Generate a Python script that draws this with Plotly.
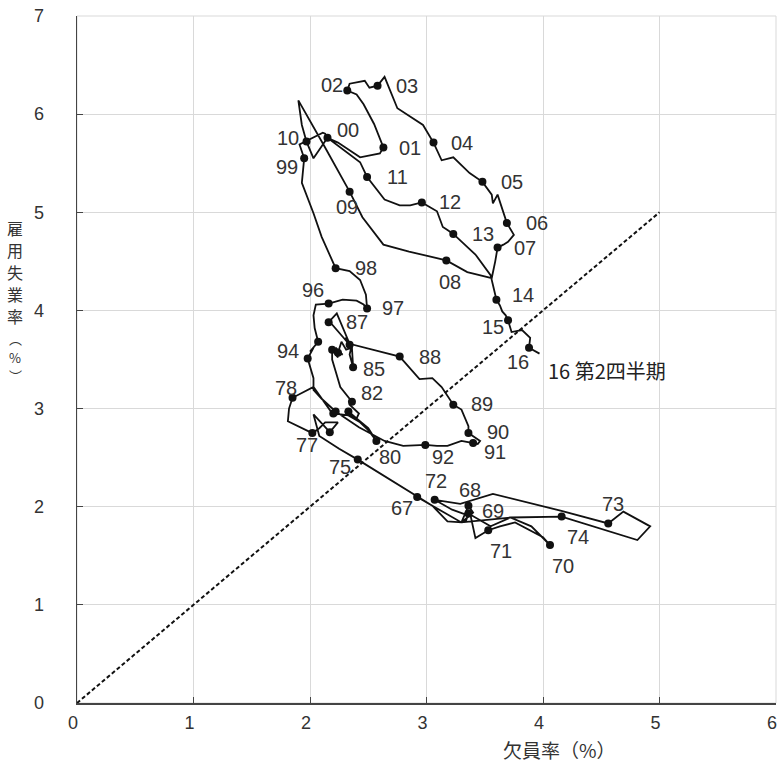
import plotly.graph_objects as go

# ---------------- data ----------------
# quarterly path, 1967 Q1 ... 2016 Q2 (4 points per year)
vacancy_rate = [
    2.92, 3.05, 3.18, 3.30,   # 1967
    3.36, 3.40, 3.31, 3.34,   # 1968
    3.36, 3.55, 3.72, 3.90,   # 1969
    4.06, 4.00, 3.76, 3.63,   # 1970
    3.53, 3.42, 3.38, 3.22,   # 1971
    3.07, 3.29, 3.57, 4.15,   # 1972
    4.56, 4.69, 4.92, 4.81,   # 1973
    4.16, 3.72, 3.30, 3.05,   # 1974
    2.41, 2.25, 2.08, 2.03,   # 1975
    2.17, 2.24, 2.13, 2.08,   # 1976
    2.02, 1.81, 1.82, 1.84,   # 1977
    1.85, 2.03, 2.12, 2.18,   # 1978
    2.20, 2.33, 2.43, 2.50,   # 1979
    2.57, 2.50, 2.40, 2.30,   # 1980
    2.33, 2.40, 2.42, 2.34,   # 1981
    2.36, 2.26, 2.22, 2.19,   # 1982
    2.19, 2.24, 2.22, 2.28,   # 1983
    2.24, 2.27, 2.31, 2.36,   # 1984
    2.37, 2.34, 2.36, 2.30,   # 1985
    2.34, 2.26, 2.20, 2.18,   # 1986
    2.16, 2.23, 2.34, 2.55,   # 1987
    2.77, 2.94, 3.05, 3.13,   # 1988
    3.23, 3.30, 3.33, 3.36,   # 1989
    3.36, 3.42, 3.46, 3.44,   # 1990
    3.40, 3.30, 3.18, 3.09,   # 1991
    2.99, 2.80, 2.64, 2.42,   # 1992
    2.22, 2.10, 2.03, 2.03,   # 1993
    1.98, 2.03, 2.00, 2.04,   # 1994
    2.07, 2.04, 2.03, 2.05,   # 1995
    2.16, 2.28, 2.40, 2.46,   # 1996
    2.49, 2.48, 2.43, 2.34,   # 1997
    2.22, 2.10, 2.03, 1.93,   # 1998
    1.95, 1.91, 2.11, 2.13,   # 1999
    2.15, 2.24, 2.43, 2.60,   # 2000
    2.63, 2.55, 2.46, 2.40,   # 2001
    2.32, 2.34, 2.47, 2.51,   # 2002
    2.58, 2.64, 2.75, 2.97,   # 2003
    3.06, 3.13, 3.23, 3.37,   # 2004
    3.48, 3.56, 3.57, 3.61,   # 2005
    3.69, 3.75, 3.70, 3.66,   # 2006
    3.61, 3.59, 3.56, 3.35,   # 2007
    3.17, 2.85, 2.63, 2.45,   # 2008
    2.34, 2.12, 1.90, 1.93,   # 2009
    1.97, 2.03, 2.15, 2.43,   # 2010
    2.49, 2.64, 2.77, 2.86,   # 2011
    2.96, 3.09, 3.14, 3.18,   # 2012
    3.23, 3.42, 3.55, 3.58,   # 2013
    3.60, 3.63, 3.65, 3.68,   # 2014
    3.70, 3.73, 3.82, 3.89,   # 2015
    3.88, 3.97,               # 2016
]
unemployment_rate = [
    2.10, 2.01, 1.85, 1.84,   # 1967
    2.01, 1.94, 1.85, 1.86,   # 1968
    1.93, 1.80, 1.89, 1.80,   # 1969
    1.61, 1.69, 1.84, 1.80,   # 1970
    1.76, 1.68, 1.90, 1.97,   # 1971
    2.07, 2.03, 2.13, 1.96,   # 1972
    1.83, 1.95, 1.80, 1.66,   # 1973
    1.90, 1.89, 1.84, 2.01,   # 1974
    2.48, 2.59, 2.72, 2.94,   # 1975
    2.76, 2.86, 2.86, 2.80,   # 1976
    2.75, 2.87, 3.00, 3.08,   # 1977
    3.11, 3.22, 3.07, 2.97,   # 1978
    2.95, 2.93, 2.86, 2.78,   # 1979
    2.67, 2.80, 2.90, 2.97,   # 1980
    2.97, 2.90, 2.95, 3.04,   # 1981
    3.07, 3.22, 3.38, 3.50,   # 1982
    3.60, 3.52, 3.62, 3.55,   # 1983
    3.57, 3.68, 3.60, 3.62,   # 1984
    3.42, 3.55, 3.65, 3.72,   # 1985
    3.65, 3.76, 3.84, 3.87,   # 1986
    3.88, 3.97, 3.66, 3.60,   # 1987
    3.53, 3.30, 3.31, 3.22,   # 1988
    3.04, 2.99, 2.90, 2.82,   # 1989
    2.75, 2.70, 2.67, 2.64,   # 1990
    2.65, 2.67, 2.62, 2.62,   # 1991
    2.63, 2.62, 2.67, 2.81,   # 1992
    2.97, 3.10, 3.19, 3.31,   # 1993
    3.51, 3.62, 3.58, 3.64,   # 1994
    3.68, 3.82, 3.95, 4.06,   # 1995
    4.07, 4.11, 4.10, 4.06,   # 1996
    4.02, 4.16, 4.31, 4.40,   # 1997
    4.43, 4.75, 4.99, 5.30,   # 1998
    5.55, 5.69, 5.81, 5.80,   # 1999
    5.76, 5.71, 5.56, 5.60,   # 2000
    5.66, 5.90, 6.10, 6.20,   # 2001
    6.24, 6.31, 6.34, 6.27,   # 2002
    6.29, 6.38, 6.06, 5.89,   # 2003
    5.71, 5.53, 5.56, 5.40,   # 2004
    5.31, 5.18, 5.09, 5.18,   # 2005
    4.89, 4.77, 4.70, 4.67,   # 2006
    4.64, 4.50, 4.33, 4.39,   # 2007
    4.51, 4.60, 4.67, 4.95,   # 2008
    5.21, 5.68, 6.14, 5.89,   # 2009
    5.72, 5.55, 5.76, 5.51,   # 2010
    5.36, 5.13, 5.07, 5.07,   # 2011
    5.10, 5.01, 4.85, 4.82,   # 2012
    4.78, 4.57, 4.36, 4.21,   # 2013
    4.11, 4.05, 3.99, 3.95,   # 2014
    3.90, 3.78, 3.80, 3.72,   # 2015
    3.62, 3.56,               # 2016
]
year_labels = ["67", "68", "69", "70", "71", "72", "73", "74", "75", "76",
               "77", "78", "79", "80", "81", "82", "83", "84", "85", "86",
               "87", "88", "89", "90", "91", "92", "93", "94", "95", "96",
               "97", "98", "99", "00", "01", "02", "03", "04", "05", "06",
               "07", "08", "09", "10", "11", "12", "13", "14", "15", "16"]
shown_labels = ["67", "68", "69", "70", "71", "72", "73", "74", "75", "77",
                "78", "80", "82", "85", "87", "88", "89", "90", "91", "92",
                "94", "96", "97", "98", "99", "00", "01", "02", "03", "04",
                "05", "06", "07", "08", "09", "10", "11", "12", "13", "14",
                "15", "16"]
end_label = "16 第2四半期"
ref_x = [0, 5]
ref_y = [0, 5]
x_ticks = [0, 1, 2, 3, 4, 5, 6]
y_ticks = [0, 1, 2, 3, 4, 5, 6, 7]
x_title = "欠員率（%）"
y_title_chars = ["雇", "用", "失", "業", "率"]
y_title_unit = ["︵", "%", "︶"]

# ---------------- styling ----------------
# label placement relative to its dot, in pixels (dx right, dy down)
label_offsets = {
    "67": (-15, 11), "68": (2, -16), "69": (25, -3), "70": (13, 21),
    "71": (13, 21), "72": (1, -19), "73": (5, -19), "74": (16, 20),
    "75": (-18, 7), "77": (-5, 12), "78": (-7, -10), "80": (14, 16),
    "82": (20, -9), "85": (21, 2), "87": (28, 0), "88": (30, 0),
    "89": (29, -1), "90": (30, -1), "91": (22, 9), "92": (18, 12),
    "94": (-20, -8), "96": (-16, -14), "97": (26, 0), "98": (30, 0),
    "99": (-17, 9), "00": (21, -8), "01": (27, 0), "02": (-15, -6),
    "03": (29, 0), "04": (29, 0), "05": (30, 0), "06": (30, 0),
    "07": (27, 0), "08": (4, 22), "09": (-3, 15), "10": (-19, -4),
    "11": (30, 0), "12": (28, 0), "13": (30, 0), "14": (27, -5),
    "15": (-15, 7), "16": (-11, 14),
}
NUM_FONT = "Liberation Sans Narrow, Arial Narrow, Liberation Sans, sans-serif"
CJK_FONT = "Noto Sans CJK JP, sans-serif"
INK = "#111111"
TXT = "#333333"
GRID = "#d9d9d9"
PLOT_TOP, PLOT_H = 16, 687          # pixel geometry of the plot area
YT_X = -0.088                       # paper x of the vertical y title
YT_CHAR_PX = [228, 250, 272, 294, 316]   # pixel rows of the title characters
YT_UNIT_PX = [339, 357, 375]
XT_PX = 749                         # pixel row of the x title


def paper_y(px):
    return (PLOT_TOP + PLOT_H - px) / PLOT_H


dot_x = vacancy_rate[::4]
dot_y = unemployment_rate[::4]

fig = go.Figure()
fig.add_trace(go.Scatter(x=ref_x, y=ref_y, mode="lines",
                         line=dict(color=INK, width=2, dash="4px,2.5px"),
                         hoverinfo="skip", showlegend=False))
fig.add_trace(go.Scatter(x=vacancy_rate, y=unemployment_rate, mode="lines",
                         line=dict(color=INK, width=1.8),
                         showlegend=False))
fig.add_trace(go.Scatter(x=dot_x, y=dot_y, mode="markers", text=year_labels,
                         marker=dict(color=INK, size=8),
                         showlegend=False))

annotations = []
for lab, xv, yv in zip(year_labels, dot_x, dot_y):
    if lab in shown_labels:
        dx, dy = label_offsets[lab]
        annotations.append(dict(x=xv, y=yv, xref="x", yref="y", text=lab,
                                showarrow=False, xshift=dx, yshift=-dy,
                                font=dict(family=NUM_FONT, size=20, color=TXT)))
annotations.append(dict(x=vacancy_rate[-1], y=unemployment_rate[-1], xref="x", yref="y",
                        text=end_label, showarrow=False, xanchor="left",
                        xshift=6, yshift=-17,
                        font=dict(family=CJK_FONT, size=20, color="#222222")))

for ch, py in zip(y_title_chars, YT_CHAR_PX):
    annotations.append(dict(x=YT_X, y=paper_y(py), xref="paper", yref="paper",
                            text=ch, showarrow=False,
                            xanchor="center", yanchor="middle",
                            font=dict(family=CJK_FONT, size=16, color=TXT)))
for ch, py in zip(y_title_unit, YT_UNIT_PX):
    annotations.append(dict(x=YT_X, y=paper_y(py), xref="paper", yref="paper",
                            text=ch, showarrow=False,
                            xanchor="center", yanchor="middle",
                            font=dict(family=CJK_FONT, size=13, color=TXT)))
annotations.append(dict(x=0.69, y=paper_y(XT_PX), xref="paper", yref="paper",
                        text=x_title, showarrow=False,
                        xanchor="center", yanchor="middle",
                        font=dict(family=CJK_FONT, size=19, color=TXT)))

fig.update_layout(
    width=779, height=764,
    margin=dict(l=77, r=3, t=16, b=61),
    paper_bgcolor="white", plot_bgcolor="white",
    showlegend=False,
    annotations=annotations,
    shapes=[dict(type="rect", xref="paper", yref="paper", x0=0, y0=0, x1=1, y1=1,
                 line=dict(color=GRID, width=1), layer="below")],
    xaxis=dict(range=[0, 6], tickvals=x_ticks, showgrid=True, gridcolor=GRID,
               gridwidth=1, zeroline=False, showline=True, linecolor="#444444",
               linewidth=1.5, ticks="inside", ticklen=6, tickcolor="#444444",
               ticklabelstandoff=3, ticklabelshift=-4,
               tickfont=dict(family=NUM_FONT, size=18, color=TXT), fixedrange=True),
    yaxis=dict(range=[0, 7], tickvals=y_ticks, showgrid=True, gridcolor=GRID,
               gridwidth=1, zeroline=False, showline=True, linecolor="#444444",
               linewidth=1.5, ticks="inside", ticklen=6, tickcolor="#444444",
               ticklabelstandoff=28,
               tickfont=dict(family=NUM_FONT, size=18, color=TXT), fixedrange=True),
)

fig.write_html("out.html",
               config={"displayModeBar": False, "staticPlot": True},
               post_script="document.body.style.margin='0';"
                           "document.body.style.overflow='hidden';")
